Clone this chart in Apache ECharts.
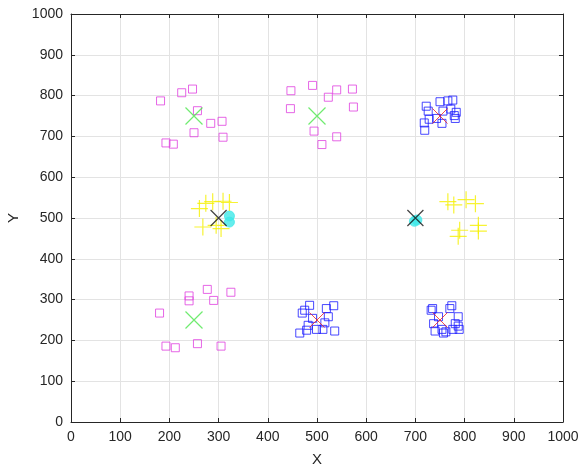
<!DOCTYPE html>
<html>
<head>
<meta charset="utf-8">
<script src="https://cdn.jsdelivr.net/npm/echarts@6/dist/echarts.min.js"></script>
<style>
html,body{margin:0;padding:0;background:#fff;}
#chart{width:583px;height:466px;}
</style>
</head>
<body>
<div id="chart"></div>
<script>
// data points
var magentaPts = [
	[182,787],[225,807],[247,816],[257,763],[284,732],[307,737],[250,709],[309,698],[193,684],[208,681],
	[447,812],[491,825],[523,796],[540,814],[572,816],[446,768],[574,772],[494,713],[540,699],[510,680],
	[180,267],[240,309],[240,297],[277,325],[290,298],[325,318],[193,186],[212,182],[257,192],[305,186]
];
var bluePts = [
	[722,774],[726,762],[750,785],[766,787],[776,789],[783,759],[781,744],[754,732],[743,744],[728,742],[718,733],[719,715],[772,767],[756,762],[779,751],
	[470,267],[485,286],[519,278],[534,285],[523,258],[491,254],[465,218],[479,225],[499,227],[512,227],[536,223],[482,237],[516,243],[475,274],
	[735,278],[732,274],[774,285],[770,278],[787,258],[787,235],[789,227],[737,241],[740,223],[754,227],[762,221],[757,218],[776,227],[747,258],[781,241]
];
var yellowPts = [
	[261,523],[274,536],[288,540],[309,541],[322,538],[268,478],[305,474],[295,482],
	[766,540],[778,532],[803,545],[822,535],[828,482],[828,468],[790,470],[787,455]
];
var cyanPts = [[322,505],[322,490],[698,492],[703,495]];
var greenCenters = [[250,750],[500,750],[250,250]];
var redCenters = [[750,750],[500,250],[750,250]];
var blackCenters = [[300,500],[700,500]];

var crossPath = 'path://M0,0L10,10M10,0L0,10';
var plusPath = 'path://M5,0L5,10M0,5L10,5';

var chart = echarts.init(document.getElementById('chart'));

var fontName = 'Liberation Sans, Arial, sans-serif';

function baseAxis(pos, show) {
	return {
		type:'value', min:0, max:1000, interval:100, position:pos,
		axisLine:{show:true, onZero:false, lineStyle:{color:'#262626', width:1}},
		axisTick:{show:true, inside:true, length:4, lineStyle:{color:'#262626'}},
		axisLabel:{show:show, margin:8, color:'#262626', fontSize:14, fontFamily:fontName,
			formatter:function(v){ return String(v); }},
		splitLine:{show:show, lineStyle:{color:'#e3e3e3', width:1}}
	};
}

var xMain = baseAxis('bottom', true);
xMain.name = 'X';
xMain.nameLocation = 'middle';
xMain.nameGap = 30;
xMain.nameTextStyle = {color:'#262626', fontSize:15, fontFamily:fontName};
var yMain = baseAxis('left', true);
yMain.name = 'Y';
yMain.nameLocation = 'middle';
yMain.nameGap = 46;
yMain.nameTextStyle = {color:'#262626', fontSize:15, fontFamily:fontName};

option = {
	animation:false,
	backgroundColor:'#fff',
	grid:{left:71, right:20, top:14, bottom:44, containLabel:false, outerBoundsMode:'none'},
	xAxis:[xMain, baseAxis('top', false)],
	yAxis:[yMain, baseAxis('right', false)],
	series:[
		{
			type:'scatter', data:magentaPts, symbol:'rect', symbolSize:8,
			itemStyle:{color:'transparent', borderColor:'#e040e0', borderWidth:1}
		},
		{
			type:'scatter', data:bluePts, symbol:'rect', symbolSize:8,
			itemStyle:{color:'transparent', borderColor:'#1a1aff', borderWidth:1}
		},
		{
			type:'scatter', data:cyanPts, symbol:'circle', symbolSize:10,
			itemStyle:{color:'#40e8e8', borderColor:'#40e8e8', borderWidth:1}
		},
		{
			type:'scatter', data:yellowPts, symbol:plusPath, symbolSize:17,
			itemStyle:{color:'transparent', borderColor:'#f5f000', borderWidth:1.2}
		},
		{
			type:'scatter', data:greenCenters, symbol:crossPath, symbolSize:17,
			itemStyle:{color:'transparent', borderColor:'#4ce64c', borderWidth:1.2}
		},
		{
			type:'scatter', data:redCenters, symbol:crossPath, symbolSize:15,
			itemStyle:{color:'transparent', borderColor:'#ee2222', borderWidth:1}
		},
		{
			type:'scatter', data:blackCenters, symbol:crossPath, symbolSize:16,
			itemStyle:{color:'transparent', borderColor:'#111', borderWidth:1.2}
		}
	]
};
chart.setOption(option);
</script>
</body>
</html>
